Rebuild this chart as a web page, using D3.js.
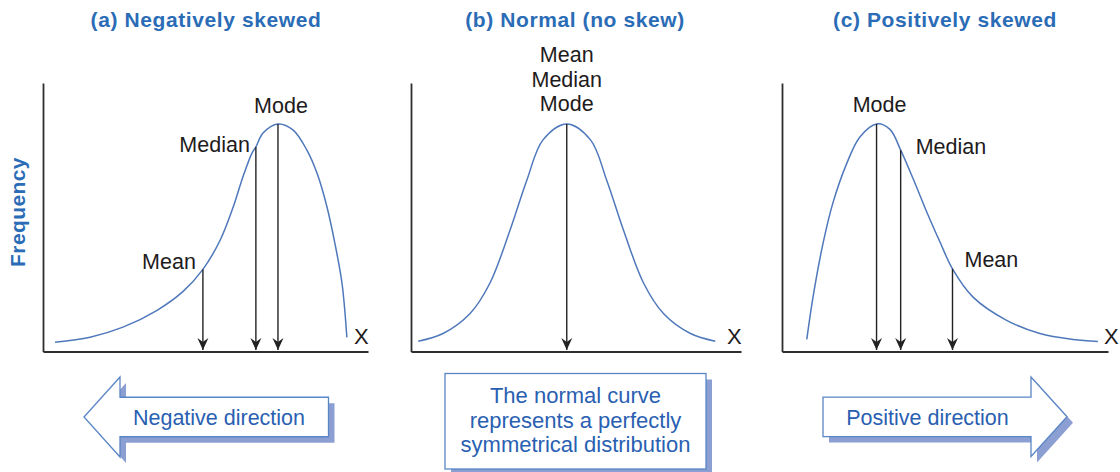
<!DOCTYPE html>
<html>
<head>
<meta charset="utf-8">
<script src="https://cdn.jsdelivr.net/npm/d3@7"></script>
<style>
  html, body { margin: 0; padding: 0; background: #fff; }
  svg { display: block; }
  text { font-family: "Liberation Sans", Arial, Helvetica, sans-serif; }
</style>
</head>
<body>
<svg id="chart" width="1120" height="472"></svg>
<script>
// ---------------- DATA ----------------
const panelTitles = ["(a) Negatively skewed", "(b) Normal (no skew)", "(c) Positively skewed"];
const yAxisLabel = "Frequency";
const xAxisLabel = "X";

// curve points [x, frequency] (x: 0-100 along the axis, frequency: 0-100 peak)
const negSkewCurve = [
  [3.7, 4.1], [14.5, 6.3], [24.6, 10.7], [35.1, 18.1], [43.1, 26.4], [49.2, 36.1],
  [54.5, 48.9], [58.5, 63.4], [61.5, 76.7], [64.3, 87.2], [65.5, 89.9], [67.7, 96.0],
  [72.3, 100], [76.9, 97.4], [81.2, 88.5], [84.3, 78.4], [87.4, 63.4], [89.8, 47.6],
  [92.0, 30.0], [93.5, 6.2]
];
const normalCurve = [
  [2.2, 4.5], [9.7, 7.9], [17.9, 16.7], [23.9, 30.0], [30.0, 53.3], [35.1, 75.3],
  [40.0, 93.0], [47.2, 100], [54.4, 93.0], [59.3, 75.3], [64.4, 53.3], [70.5, 30.0],
  [76.5, 16.7], [84.7, 7.9], [92.2, 4.5]
];
const posSkewCurve = [
  [7.6, 5.3], [9.5, 23.8], [12.6, 47.6], [15.6, 65.2], [19.9, 82.8], [23.9, 94.3],
  [29.0, 100], [33.1, 97.6], [36.4, 88.5], [40.2, 76.0], [44.5, 61.0], [48.5, 48.0],
  [52.3, 36.3], [58.6, 23.9], [68.9, 13.7], [79.1, 7.9], [89.3, 5.3], [96.9, 4.4]
];

// central-tendency markers: [label, x, frequency]
const negSkewMarkers = [["Mean", 49.2, 36.1], ["Median", 65.5, 89.9], ["Mode", 72.3, 100]];
const normalMarkers = [["Mean\nMedian\nMode", 47.2, 100]];
const posSkewMarkers = [["Mode", 29.0, 100], ["Median", 36.4, 88.5], ["Mean", 52.3, 36.3]];

const bottomTexts = [
  ["Negative direction"],
  ["The normal curve", "represents a perfectly", "symmetrical distribution"],
  ["Positive direction"]
];

// ---------------- LAYOUT ----------------
const svg = d3.select("#chart");
const BLUE = "#2b6cb6";
const CURVE = "#4f78bb";
const INK = "#1e1b1c";
const AXIS = "#2e2e2e";
const SHADOW = "#8c9fd3";
const OUTLINE = "#5a86c6";

const yScale = d3.scaleLinear().domain([0, 118]).range([351.5, 83]);

const panels = [
  { title: panelTitles[0], titleX: 206, range: [43, 368], curve: negSkewCurve, markers: negSkewMarkers, xLabel: 354,
    labelPos: { Mean: ["end", -7, 0], Median: ["end", -6, 5], Mode: ["middle", 3, -11] } },
  { title: panelTitles[1], titleX: 575, range: [411, 741], curve: normalCurve, markers: normalMarkers, xLabel: 727,
    labelPos: {} },
  { title: panelTitles[2], titleX: 945, range: [782, 1108], curve: posSkewCurve, markers: posSkewMarkers, xLabel: 1104,
    labelPos: { Mode: ["middle", 3, -12], Median: ["start", 15, 4], Mean: ["start", 12, -2] } }
];

// arrowhead marker
const defs = svg.append("defs");
defs.append("marker")
  .attr("id", "ah")
  .attr("viewBox", "-7 -13 14 14")
  .attr("refX", 0).attr("refY", 0)
  .attr("markerWidth", 14).attr("markerHeight", 14)
  .attr("markerUnits", "userSpaceOnUse")
  .attr("orient", "0")
  .append("path")
  .attr("d", "M0,0 L-5.5,-12 L0,-8 L5.5,-12 Z")
  .attr("fill", "#222");

panels.forEach(p => {
  const x = d3.scaleLinear().domain([0, 100]).range(p.range);
  const g = svg.append("g");

  // title
  g.append("text")
    .attr("x", p.titleX).attr("y", 26.5)
    .attr("text-anchor", "middle")
    .attr("font-size", 21).attr("font-weight", "bold")
    .attr("letter-spacing", 0.6)
    .attr("fill", BLUE)
    .text(p.title);

  // axes
  const xAxis = g.append("g")
    .attr("transform", `translate(0,${yScale(0)})`)
    .call(d3.axisBottom(x).ticks(0).tickSizeOuter(0));
  const yAxis = g.append("g")
    .attr("transform", `translate(${p.range[0]},0)`)
    .call(d3.axisLeft(yScale).ticks(0).tickSizeOuter(0));
  [xAxis, yAxis].forEach(a => a.select(".domain").attr("stroke", AXIS).attr("stroke-width", 1.8));

  // curve
  const line = d3.line()
    .x(d => x(d[0])).y(d => yScale(d[1]))
    .curve(d3.curveCatmullRom.alpha(0.5));
  g.append("path")
    .datum(p.curve)
    .attr("d", line)
    .attr("fill", "none")
    .attr("stroke", CURVE)
    .attr("stroke-width", 1.5);

  // markers
  p.markers.forEach(m => {
    const [label, mx, my] = m;
    g.append("line")
      .attr("x1", x(mx)).attr("x2", x(mx))
      .attr("y1", yScale(my)).attr("y2", yScale(0) - 1.5)
      .attr("stroke", "#222").attr("stroke-width", 1.4)
      .attr("marker-end", "url(#ah)");
    const lines = label.split("\n");
    if (lines.length > 1) {
      lines.forEach((t, i) => {
        g.append("text")
          .attr("x", x(mx)).attr("y", yScale(my) - 12.5 - (lines.length - 1 - i) * 24.5)
          .attr("text-anchor", "middle")
          .attr("font-size", 21.5).attr("fill", INK)
          .text(t);
      });
    } else {
      const [anchor, dx, dy] = p.labelPos[label];
      g.append("text")
        .attr("x", x(mx) + dx).attr("y", yScale(my) + dy)
        .attr("text-anchor", anchor)
        .attr("font-size", 21.5).attr("fill", INK)
        .text(label);
    }
  });

  // X label
  g.append("text")
    .attr("x", p.xLabel).attr("y", 344)
    .attr("font-size", 22).attr("fill", INK)
    .text(xAxisLabel);
});

// y-axis title
svg.append("text")
  .attr("transform", "translate(25,212) rotate(-90)")
  .attr("text-anchor", "middle")
  .attr("font-size", 21).attr("font-weight", "bold")
  .attr("letter-spacing", 0.4)
  .attr("fill", BLUE)
  .text(yAxisLabel);

// ---------------- BOTTOM ANNOTATIONS ----------------
const SH = 6;
function blockArrow(tipX, headBackX, endX, cy, bh, hh) {
  const p = d3.path();
  p.moveTo(tipX, cy);
  p.lineTo(headBackX, cy - hh / 2);
  p.lineTo(headBackX, cy - bh / 2);
  p.lineTo(endX, cy - bh / 2);
  p.lineTo(endX, cy + bh / 2);
  p.lineTo(headBackX, cy + bh / 2);
  p.lineTo(headBackX, cy + hh / 2);
  p.closePath();
  return p.toString();
}
const arrows = [
  { d: blockArrow(84, 120, 328.5, 417, 39.5, 80), text: bottomTexts[0][0], tx: 219 },
  { d: blockArrow(1067, 1031, 823, 416.8, 39.5, 79.5), text: bottomTexts[2][0], tx: 927.5 }
];
arrows.forEach(a => {
  svg.append("path").attr("d", a.d)
    .attr("transform", `translate(${SH},${SH})`)
    .attr("fill", SHADOW);
  svg.append("path").attr("d", a.d)
    .attr("fill", "#fff")
    .attr("stroke", OUTLINE).attr("stroke-width", 1.3)
    .attr("stroke-linejoin", "miter");
  svg.append("text")
    .attr("x", a.tx).attr("y", 424.5)
    .attr("text-anchor", "middle")
    .attr("font-size", 21.5).attr("fill", "#2a5fb2")
    .text(a.text);
});

// center box
const box = { x: 445, y: 373.5, w: 261, h: 95.5 };
svg.append("rect")
  .attr("x", box.x + SH).attr("y", box.y + SH)
  .attr("width", box.w).attr("height", box.h)
  .attr("fill", SHADOW);
svg.append("rect")
  .attr("x", box.x).attr("y", box.y)
  .attr("width", box.w).attr("height", box.h)
  .attr("fill", "#fff")
  .attr("stroke", OUTLINE).attr("stroke-width", 1.3);
bottomTexts[1].forEach((t, i) => {
  svg.append("text")
    .attr("x", box.x + box.w / 2).attr("y", 403 + i * 24.5)
    .attr("text-anchor", "middle")
    .attr("font-size", 22).attr("fill", "#2a5fb2")
    .text(t);
});
</script>
</body>
</html>
